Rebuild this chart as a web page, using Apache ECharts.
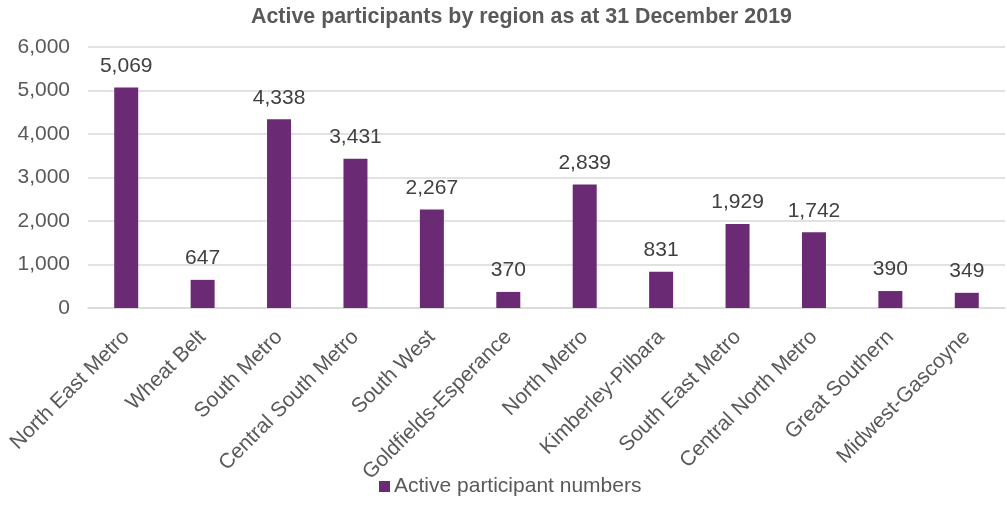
<!DOCTYPE html>
<html>
<head>
<meta charset="utf-8">
<script src="https://cdn.jsdelivr.net/npm/echarts@6/dist/echarts.min.js"></script>
<style>
  html, body { margin: 0; padding: 0; background: #fff; }
  #chart { width: 1007px; height: 505px; }
</style>
</head>
<body>
<div id="chart"></div>
<script>
const regions = [
  'North East Metro', 'Wheat Belt', 'South Metro', 'Central South Metro',
  'South West', 'Goldfields-Esperance', 'North Metro', 'Kimberley-Pilbara',
  'South East Metro', 'Central North Metro', 'Great Southern', 'Midwest-Gascoyne'
];
const participants = [5069, 647, 4338, 3431, 2267, 370, 2839, 831, 1929, 1742, 390, 349];
const seriesName = 'Active participant numbers';
const titleText = 'Active participants by region as at 31 December 2019';

const textColor = '#595959';
const fontFamily = '"Liberation Sans", Arial, sans-serif';

const chart = echarts.init(document.getElementById('chart'), null, { renderer: 'canvas' });
chart.setOption({
  animation: false,
  backgroundColor: '#ffffff',
  title: {
    text: titleText,
    left: 246,
    top: 2,
    textStyle: { color: textColor, fontFamily, fontSize: 21.4, fontWeight: 'bold' }
  },
  legend: {
    data: [seriesName],
    bottom: 3,
    left: 374,
    itemWidth: 11,
    itemHeight: 11,
    itemGap: 6,
    icon: 'rect',
    textStyle: { color: textColor, fontFamily, fontSize: 21, padding: [0, 0, 0, -1] }
  },
  grid: { left: 88, right: 2, top: 47, bottom: 197, containLabel: false },
  xAxis: {
    type: 'category',
    data: regions,
    axisLine: { lineStyle: { color: '#d9d9d9', width: 1.5 } },
    axisTick: { show: false },
    axisLabel: {
      rotate: 45,
      interval: 0,
      color: textColor,
      fontFamily,
      fontSize: 21,
      margin: 26
    }
  },
  yAxis: {
    type: 'value',
    min: 0,
    max: 6000,
    interval: 1000,
    axisLine: { show: false },
    axisTick: { show: false },
    splitLine: { lineStyle: { color: '#d9d9d9', width: 1.5 } },
    axisLabel: {
      color: textColor,
      fontFamily,
      fontSize: 21,
      margin: 18,
      formatter: v => v.toLocaleString('en-US')
    }
  },
  series: [{
    name: seriesName,
    type: 'bar',
    data: participants,
    barWidth: 24,
    itemStyle: { color: '#6b2a74' },
    label: {
      show: true,
      position: 'top',
      distance: 11,
      color: '#404040',
      fontFamily,
      fontSize: 21,
      formatter: p => p.value.toLocaleString('en-US')
    }
  }]
});
</script>
</body>
</html>
